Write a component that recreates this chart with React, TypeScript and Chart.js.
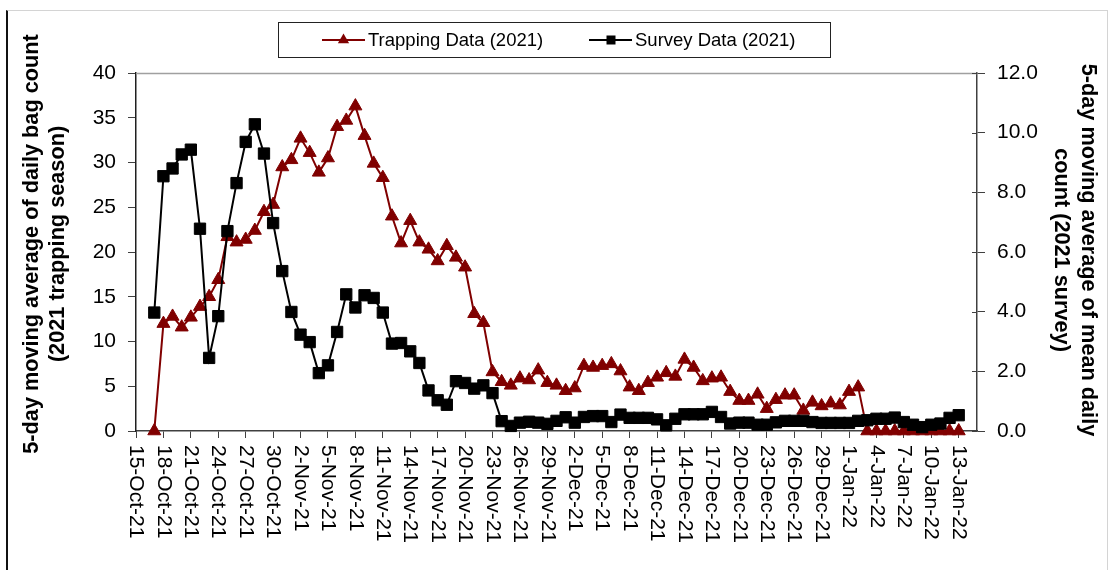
import React, { useEffect, useRef } from 'react';
import { Chart, registerables } from 'chart.js';

Chart.register(...registerables);

const FONT = "'Liberation Sans', Arial, Helvetica, sans-serif";
const RED = '#800000';
const BLACK = '#000000';
const AXIS = '#404040';

// x axis: days counted from 15-Oct-21 (tick every 3 days)
const tickLabels = [
  '15-Oct-21', '18-Oct-21', '21-Oct-21', '24-Oct-21', '27-Oct-21', '30-Oct-21',
  '2-Nov-21', '5-Nov-21', '8-Nov-21', '11-Nov-21', '14-Nov-21', '17-Nov-21', '20-Nov-21',
  '23-Nov-21', '26-Nov-21', '29-Nov-21',
  '2-Dec-21', '5-Dec-21', '8-Dec-21', '11-Dec-21', '14-Dec-21', '17-Dec-21', '20-Dec-21',
  '23-Dec-21', '26-Dec-21', '29-Dec-21',
  '1-Jan-22', '4-Jan-22', '7-Jan-22', '10-Jan-22', '13-Jan-22',
];
const TICK_STEP_DAYS = 3;
const AXIS_MAX_DAY = 92; // 15-Jan-22
const FIRST_DATA_DAY = 2; // 17-Oct-21

// Trapping data (left axis), daily from 17-Oct-21 to 13-Jan-22
const trapping = [
  0, 12.0, 12.8, 11.6, 12.7, 13.9, 15.0, 16.9, 21.7, 21.1,
  21.4, 22.4, 24.5, 25.3, 29.5, 30.3, 32.7, 31.1, 28.9, 30.5,
  34.0, 34.7, 36.3, 33.0, 29.9, 28.3, 24.0, 21.0, 23.5, 21.1,
  20.3, 19.0, 20.7, 19.4, 18.3, 13.1, 12.1, 6.6, 5.5, 5.1,
  5.9, 5.7, 6.8, 5.4, 5.1, 4.5, 4.8, 7.3, 7.1, 7.3,
  7.5, 6.7, 4.9, 4.5, 5.4, 6.0, 6.5, 6.1, 8.0, 7.1,
  5.6, 5.9, 6.0, 4.4, 3.4, 3.4, 4.1, 2.5, 3.5, 4.0,
  4.0, 2.3, 3.2, 2.8, 3.1, 2.9, 4.4, 4.9, 0, 0,
  0, 0, 0, 0, 0, 0, 0, 0, 0,
];

// Survey data (right axis), daily from 17-Oct-21 to 13-Jan-22
const survey = [
  3.97, 8.54, 8.80, 9.27, 9.43, 6.78, 2.45, 3.85, 6.70, 8.31,
  9.69, 10.28, 9.30, 6.97, 5.36, 3.99, 3.23, 2.98, 1.94, 2.20,
  3.32, 4.58, 4.14, 4.55, 4.46, 3.97, 2.93, 2.95, 2.67, 2.28,
  1.36, 1.03, 0.88, 1.67, 1.61, 1.42, 1.53, 1.27, 0.33, 0.17,
  0.28, 0.31, 0.28, 0.24, 0.34, 0.46, 0.28, 0.47, 0.50, 0.50,
  0.30, 0.55, 0.44, 0.44, 0.44, 0.39, 0.19, 0.41, 0.56, 0.56,
  0.56, 0.64, 0.47, 0.25, 0.28, 0.28, 0.21, 0.21, 0.29, 0.34,
  0.34, 0.34, 0.30, 0.27, 0.27, 0.27, 0.27, 0.34, 0.36, 0.41,
  0.41, 0.45, 0.30, 0.21, 0.13, 0.21, 0.25, 0.44, 0.53,
];

const seriesNames = ['Trapping Data (2021)', 'Survey Data (2021)'];
const leftTitle = ['5-day moving average of daily bag count', '(2021 trapping season)'];
const rightTitle = ['5-day moving average of mean daily', 'count (2021 survey)'];

const toPoints = (vals: number[]) => vals.map((v, i) => ({ x: FIRST_DATA_DAY + i, y: v }));

function drawTriangle(ctx: CanvasRenderingContext2D, x: number, y: number, r: number) {
  ctx.beginPath();
  ctx.moveTo(x, y - r);
  ctx.lineTo(x + r * 0.866, y + r * 0.5);
  ctx.lineTo(x - r * 0.866, y + r * 0.5);
  ctx.closePath();
  ctx.fill();
}

const decorPlugin = {
  id: 'decor',
  beforeDatasetsDraw(chart: any) {
    const { ctx, chartArea: a } = chart;
    ctx.save();
    // plot area top border
    ctx.strokeStyle = '#a0a0a0';
    ctx.lineWidth = 1.5;
    ctx.beginPath();
    ctx.moveTo(a.left, a.top + 0.5);
    ctx.lineTo(a.right, a.top + 0.5);
    ctx.stroke();
    // inner part of right axis ticks (they cross the axis)
    const y1 = chart.scales.y1;
    ctx.strokeStyle = AXIS;
    ctx.lineWidth = 1;
    ctx.beginPath();
    y1.ticks.forEach((t: any) => {
      const py = Math.round(y1.getPixelForValue(t.value)) + 0.5;
      ctx.moveTo(a.right - 5, py);
      ctx.lineTo(a.right, py);
    });
    ctx.stroke();
    ctx.restore();
  },
  afterDraw(chart: any) {
    const { ctx, chartArea: a } = chart;
    const xs = chart.scales.x;
    ctx.save();
    // x tick labels, rotated to read downwards
    ctx.fillStyle = '#000';
    ctx.font = `21px ${FONT}`;
    ctx.textAlign = 'left';
    ctx.textBaseline = 'middle';
    tickLabels.forEach((lab, i) => {
      const px = xs.getPixelForValue(i * TICK_STEP_DAYS);
      ctx.save();
      ctx.translate(px, a.bottom + 14);
      ctx.rotate(Math.PI / 2);
      ctx.fillText(lab, 0, 0);
      ctx.restore();
    });
    // axis titles
    ctx.font = `bold 21.7px ${FONT}`;
    ctx.textAlign = 'center';
    const lyc = 244;
    [32.5, 58].forEach((lx, i) => {
      ctx.save();
      ctx.translate(lx, lyc);
      ctx.rotate(-Math.PI / 2);
      ctx.fillText(leftTitle[i], 0, 0);
      ctx.restore();
    });
    const ryc = 250;
    [1087.5, 1061].forEach((rx, i) => {
      ctx.save();
      ctx.translate(rx, ryc);
      ctx.rotate(Math.PI / 2);
      ctx.fillText(rightTitle[i], 0, 0);
      ctx.restore();
    });
    // legend
    ctx.strokeStyle = '#222';
    ctx.lineWidth = 1;
    ctx.strokeRect(278.5, 22.5, 552, 35);
    const ly = 40;
    ctx.lineWidth = 2;
    ctx.strokeStyle = RED;
    ctx.beginPath();
    ctx.moveTo(322, ly);
    ctx.lineTo(365, ly);
    ctx.stroke();
    ctx.fillStyle = RED;
    drawTriangle(ctx, 343.5, ly, 6.5);
    ctx.strokeStyle = BLACK;
    ctx.beginPath();
    ctx.moveTo(589, ly);
    ctx.lineTo(632, ly);
    ctx.stroke();
    ctx.fillStyle = BLACK;
    ctx.fillRect(611 - 4.5, ly - 4.5, 9, 9);
    ctx.fillStyle = '#000';
    ctx.font = `18.5px ${FONT}`;
    ctx.textAlign = 'left';
    ctx.textBaseline = 'middle';
    ctx.fillText(seriesNames[0], 368, ly + 1);
    ctx.fillText(seriesNames[1], 635, ly + 1);
    ctx.restore();
  },
};

export default function App() {
  const canvasRef = useRef<HTMLCanvasElement | null>(null);

  useEffect(() => {
    const canvas = canvasRef.current;
    if (!canvas) return;
    const chart = new Chart(canvas, {
      type: 'line',
      data: {
        datasets: [
          {
            label: seriesNames[0],
            data: toPoints(trapping),
            yAxisID: 'y',
            borderColor: RED,
            backgroundColor: RED,
            borderWidth: 2,
            pointStyle: 'triangle',
            pointRadius: 7.5,
            pointBorderWidth: 1,
            pointBackgroundColor: RED,
            pointBorderColor: RED,
            tension: 0,
            clip: false,
            order: 1,
          },
          {
            label: seriesNames[1],
            data: toPoints(survey),
            yAxisID: 'y1',
            borderColor: BLACK,
            backgroundColor: BLACK,
            borderWidth: 2,
            pointStyle: 'rect',
            pointRadius: 8,
            pointBorderWidth: 1,
            pointBackgroundColor: BLACK,
            pointBorderColor: BLACK,
            tension: 0,
            clip: false,
            order: 0,
          },
        ],
      } as any,
      options: {
        responsive: false,
        maintainAspectRatio: false,
        animation: false,
        events: [],
        layout: { padding: { top: 73, left: 0, right: 0, bottom: 0 } },
        plugins: {
          legend: { display: false },
          tooltip: { enabled: false },
          title: { display: false },
        },
        scales: {
          x: {
            type: 'linear',
            min: 0,
            max: AXIS_MAX_DAY,
            afterFit: (s: any) => { s.height = 139; },
            grid: { drawOnChartArea: false, drawTicks: true, tickLength: 7, color: AXIS, lineWidth: 1 },
            border: { display: true, color: AXIS, width: 1.5 },
            ticks: { display: false, stepSize: TICK_STEP_DAYS, includeBounds: false, autoSkip: false },
          },
          y: {
            position: 'left',
            min: 0,
            max: 40,
            afterFit: (s: any) => { s.width = 136; },
            grid: { drawOnChartArea: false, drawTicks: true, tickLength: 8, color: AXIS, lineWidth: 1 },
            border: { display: true, color: '#202020', width: 1.5 },
            ticks: { stepSize: 5, padding: 12, color: '#000', font: { family: FONT, size: 21 } },
          },
          y1: {
            position: 'right',
            min: 0,
            max: 12,
            afterFit: (s: any) => { s.width = 138; },
            grid: { drawOnChartArea: false, drawTicks: true, tickLength: 8, color: AXIS, lineWidth: 1 },
            border: { display: true, color: AXIS, width: 1.5 },
            ticks: {
              stepSize: 2,
              padding: 12,
              color: '#000',
              font: { family: FONT, size: 21 },
              callback: (v: any) => Number(v).toFixed(1),
            },
          },
        },
      } as any,
      plugins: [decorPlugin as any],
    });
    return () => chart.destroy();
  }, []);

  return (
    <div style={{ position: 'absolute', left: 0, top: 0, width: 1115, height: 570, background: '#fff', overflow: 'hidden' }}>
      <div
        style={{
          position: 'absolute',
          left: 6,
          top: 10,
          width: 1102,
          height: 560,
          boxSizing: 'border-box',
          borderLeft: '2px solid #111',
          borderTop: '1px solid #d4d4d4',
          borderRight: '1px solid #d4d4d4',
        }}
      />
      <canvas
        ref={canvasRef}
        width={1115}
        height={570}
        style={{ position: 'absolute', left: 0, top: 0, width: 1115, height: 570, display: 'block' }}
      />
    </div>
  );
}
